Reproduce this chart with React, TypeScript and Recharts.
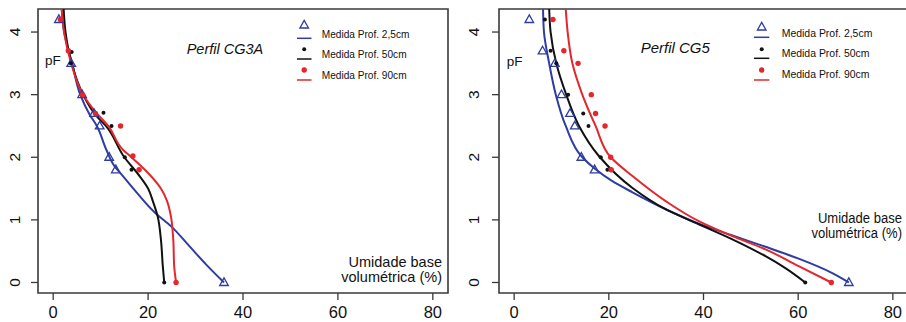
import React from 'react';
import { ScatterChart, Scatter, XAxis, YAxis, ReferenceArea, Customized } from 'recharts';

// Each pair is [umidade volumétrica (%), pF]
type Pair = [number, number];

const xTicks = [0, 20, 40, 60, 80];
const pfTicks = [0, 1, 2, 3, 4];
const xDomain: [number, number] = [-3.2, 83.2];
const pfDomain: [number, number] = [-0.168, 4.368];

const seriesLabels = ['Medida Prof. 2,5cm', 'Medida Prof. 50cm', 'Medida Prof. 90cm'];
const xLabelLines = ['Umidade base', 'volumétrica (%)'];
const yLabel = 'pF';

// Perfil CG3A: measured points
const cg3aMed25: Pair[] = [[1.2, 4.2], [3.8, 3.5], [6.1, 3.0], [8.6, 2.7], [9.8, 2.5], [11.8, 2.0], [13.2, 1.8], [36.0, 0]];
const cg3aMed50: Pair[] = [[3.9, 3.68], [3.7, 3.5], [10.6, 2.71], [12.3, 2.5], [15.1, 2.0], [16.5, 1.8], [23.4, 0]];
const cg3aMed90: Pair[] = [[1.5, 4.2], [3.2, 3.7], [6.2, 3.0], [8.9, 2.7], [14.2, 2.5], [16.8, 2.02], [18.1, 1.8], [25.9, 0]];

// Perfil CG3A: fitted retention curves
const cg3aFit25: Pair[] = [[1.8, 4.37], [2.3, 4.0], [4.0, 3.5], [5.7, 3.0], [7.7, 2.68], [9.2, 2.5], [11.2, 2.12], [13.0, 1.85], [14.7, 1.7], [16.9, 1.5], [21.8, 1.09], [24.8, 0.9], [28.7, 0.58], [32.2, 0.29], [36.0, 0]];
const cg3aFit50: Pair[] = [[2.2, 4.37], [2.6, 4.0], [3.9, 3.5], [6.3, 3.0], [9.1, 2.66], [11.1, 2.5], [15.0, 2.0], [18.2, 1.7], [20.0, 1.5], [21.0, 1.3], [22.0, 1.06], [22.7, 0.69], [23.1, 0.26], [23.4, 0]];
const cg3aFit90: Pair[] = [[1.8, 4.37], [2.3, 4.0], [3.8, 3.5], [6.3, 3.0], [9.1, 2.71], [11.6, 2.5], [14.7, 2.12], [16.5, 2.0], [19.6, 1.78], [22.7, 1.5], [24.0, 1.3], [24.8, 1.06], [25.3, 0.69], [25.5, 0.26], [25.9, 0]];

// Perfil CG5: measured points
const cg5Med25: Pair[] = [[3.2, 4.2], [6.0, 3.7], [8.6, 3.5], [10.0, 3.0], [11.8, 2.7], [12.8, 2.5], [14.2, 2.0], [17.0, 1.8], [70.7, 0]];
const cg5Med50: Pair[] = [[6.5, 4.2], [7.7, 3.7], [8.9, 3.5], [11.4, 3.0], [14.6, 2.7], [15.7, 2.5], [18.3, 2.0], [19.7, 1.8], [61.5, 0]];
const cg5Med90: Pair[] = [[8.2, 4.2], [10.5, 3.7], [13.5, 3.5], [16.3, 3.0], [17.2, 2.7], [19.2, 2.5], [20.4, 2.0], [20.5, 1.8], [67.0, 0]];

// Perfil CG5: fitted retention curves
const cg5Fit25: Pair[] = [[6.1, 4.37], [6.3, 4.0], [7.4, 3.5], [8.8, 3.0], [10.9, 2.5], [14.4, 2.0], [17.0, 1.82], [20.5, 1.63], [25.0, 1.44], [32.0, 1.17], [39.0, 0.94], [46.1, 0.75], [53.1, 0.57], [60.1, 0.38], [67.2, 0.15], [70.7, 0]];
const cg5Fit50: Pair[] = [[7.4, 4.37], [7.7, 4.0], [8.9, 3.5], [11.0, 3.0], [13.7, 2.5], [17.9, 2.02], [25.0, 1.51], [32.0, 1.17], [39.0, 0.93], [46.1, 0.69], [53.1, 0.42], [57.3, 0.23], [61.5, 0]];
const cg5Fit90: Pair[] = [[10.9, 4.37], [11.3, 4.0], [12.3, 3.5], [14.4, 3.0], [17.2, 2.5], [20.4, 2.0], [25.0, 1.7], [32.0, 1.3], [39.0, 0.98], [46.1, 0.74], [53.1, 0.53], [60.1, 0.26], [67.0, 0]];

const COLORS = ['#2d3da2', '#111111', '#e4262d'];
const FRAME = '#3a3a3a';
const FONT = '"Liberation Sans", Arial, sans-serif';

const toXY = (pairs: Pair[]) => pairs.map(([x, y]) => ({ x, y }));

// Point symbols: open triangle, small dot, filled dot
const drawMarker = (i: number, cx: number, cy: number) => {
  if (i === 0) {
    return (
      <polygon
        points={`${cx},${cy - 4.6} ${cx - 4.3},${cy + 3} ${cx + 4.3},${cy + 3}`}
        fill="none"
        stroke={COLORS[0]}
        strokeWidth={1.3}
      />
    );
  }
  if (i === 1) return <circle cx={cx} cy={cy} r={2} fill={COLORS[1]} />;
  return <circle cx={cx} cy={cy} r={2.7} fill={COLORS[2]} />;
};

const markerShape = (i: number) => (props: any) => <g>{drawMarker(i, props.cx, props.cy)}</g>;
const noShape = () => <g />;

interface PanelLayout {
  left: number;
  width: number;
  yAxisWidth: number;
  marginRight: number;
  yLabelGap: number;
  title: string;
  titleX: number;
  titleY: number;
  titleSize: number;
  pfX: number;
  pfY: number;
  legendLineX: [number, number];
  legendPointX: number;
  legendLineY: number[];
  legendPointY: number[];
  legendTextX: number;
  legendTextY: number[];
  legendScale: number;
  xlabRight: number;
  xlabY: number[];
  xlabScale: number;
}

const HEIGHT = 322;
const TOP = 9;
const XAXIS_H = 29;

const XTick = (props: any) => {
  const { x, y, payload } = props;
  return (
    <text x={x} y={y + 18} textAnchor="middle" fontSize={16.5} fontFamily={FONT} fill="#111">
      {payload.value}
    </text>
  );
};

const makeYTick = (gap: number) => (props: any) => {
  const { x, y, payload } = props;
  const bx = x + 7 - gap;
  return (
    <text
      transform={`translate(${bx},${y}) rotate(-90)`}
      textAnchor="middle"
      fontSize={15.5}
      fontFamily={FONT}
      fill="#111"
    >
      {payload.value}
    </text>
  );
};

const Annotations = ({ L }: { L: PanelLayout }) => (
  <g fontFamily={FONT} fill="#111">
    <text x={L.titleX} y={L.titleY} fontSize={L.titleSize} fontStyle="italic">
      {L.title}
    </text>
    <text x={L.pfX} y={L.pfY} fontSize={13.5}>
      {yLabel}
    </text>
    {seriesLabels.map((label, i) => (
      <g key={label}>
        <line
          x1={L.legendLineX[0]}
          x2={L.legendLineX[1]}
          y1={L.legendLineY[i]}
          y2={L.legendLineY[i]}
          stroke={COLORS[i]}
          strokeWidth={1.5}
        />
        {drawMarker(i, L.legendPointX, L.legendPointY[i])}
        <text
          transform={`translate(${L.legendTextX},${L.legendTextY[i]}) scale(${L.legendScale},1)`}
          fontSize={11.5}
        >
          {label}
        </text>
      </g>
    ))}
    {xLabelLines.map((line, i) => (
      <text
        key={line}
        transform={`translate(${L.xlabRight},${L.xlabY[i]}) scale(${L.xlabScale},1)`}
        textAnchor="end"
        fontSize={14.5}
      >
        {line}
      </text>
    ))}
  </g>
);

const Panel = ({ L, meds, fits }: { L: PanelLayout; meds: Pair[][]; fits: Pair[][] }) => (
  <div style={{ position: 'absolute', left: L.left, top: 0 }}>
    <ScatterChart
      width={L.width}
      height={HEIGHT}
      margin={{ top: TOP, right: L.marginRight, bottom: 0, left: 0 }}
    >
      <XAxis
        type="number"
        dataKey="x"
        domain={xDomain}
        ticks={xTicks}
        allowDataOverflow
        axisLine={false}
        tickLine={{ stroke: FRAME, strokeWidth: 1.3 }}
        tickSize={7}
        tickMargin={0}
        height={XAXIS_H}
        tick={<XTick />}
        interval={0}
      />
      <YAxis
        type="number"
        dataKey="y"
        domain={pfDomain}
        ticks={pfTicks}
        allowDataOverflow
        axisLine={false}
        tickLine={{ stroke: FRAME, strokeWidth: 1.3 }}
        tickSize={7}
        tickMargin={0}
        width={L.yAxisWidth}
        tick={makeYTick(L.yLabelGap)}
        interval={0}
      />
      <ReferenceArea
        x1={xDomain[0]}
        x2={xDomain[1]}
        y1={pfDomain[0]}
        y2={pfDomain[1]}
        fill="none"
        fillOpacity={0}
        stroke={FRAME}
        strokeWidth={1.6}
        ifOverflow="visible"
      />
      {fits.map((pts, i) => (
        <Scatter
          key={`fit${i}`}
          data={toXY(pts)}
          fill={COLORS[i]}
          line={{ stroke: COLORS[i], strokeWidth: 2 }}
          lineJointType="monotoneY"
          shape={noShape}
          isAnimationActive={false}
        />
      ))}
      {meds.map((pts, i) => (
        <Scatter
          key={`med${i}`}
          data={toXY(pts)}
          fill={COLORS[i]}
          shape={markerShape(i)}
          isAnimationActive={false}
        />
      ))}
      <Customized component={<Annotations L={L} />} />
    </ScatterChart>
  </div>
);

const leftLayout: PanelLayout = {
  left: 0,
  width: 455,
  yAxisWidth: 38,
  marginRight: 7,
  yLabelGap: 17.6,
  title: 'Perfil CG3A',
  titleX: 186.7,
  titleY: 53.5,
  titleSize: 14.5,
  pfX: 45,
  pfY: 65,
  legendLineX: [297, 311.5],
  legendPointX: 304.2,
  legendLineY: [38.3, 59, 80],
  legendPointY: [25, 49.3, 70],
  legendTextX: 321.7,
  legendTextY: [38.3, 58.3, 79.3],
  legendScale: 0.88,
  xlabRight: 442,
  xlabY: [267, 282],
  xlabScale: 1,
};

const rightLayout: PanelLayout = {
  left: 460,
  width: 460,
  yAxisWidth: 39,
  marginRight: 12,
  yLabelGap: 20,
  title: 'Perfil CG5',
  titleX: 180.7,
  titleY: 53.3,
  titleSize: 15,
  pfX: 46.7,
  pfY: 66,
  legendLineX: [294, 309.3],
  legendPointX: 301.7,
  legendLineY: [37.3, 58.3, 80],
  legendPointY: [27, 49.3, 70],
  legendTextX: 321.7,
  legendTextY: [37.3, 57.3, 78.3],
  legendScale: 0.91,
  xlabRight: 442,
  xlabY: [223.3, 238.3],
  xlabScale: 0.9,
};

export default function App() {
  return (
    <div
      style={{
        position: 'absolute',
        left: 0,
        top: 0,
        width: 906,
        height: HEIGHT,
        overflow: 'hidden',
        background: '#fff',
      }}
    >
      <Panel L={leftLayout} meds={[cg3aMed25, cg3aMed50, cg3aMed90]} fits={[cg3aFit25, cg3aFit50, cg3aFit90]} />
      <Panel L={rightLayout} meds={[cg5Med25, cg5Med50, cg5Med90]} fits={[cg5Fit25, cg5Fit50, cg5Fit90]} />
    </div>
  );
}
